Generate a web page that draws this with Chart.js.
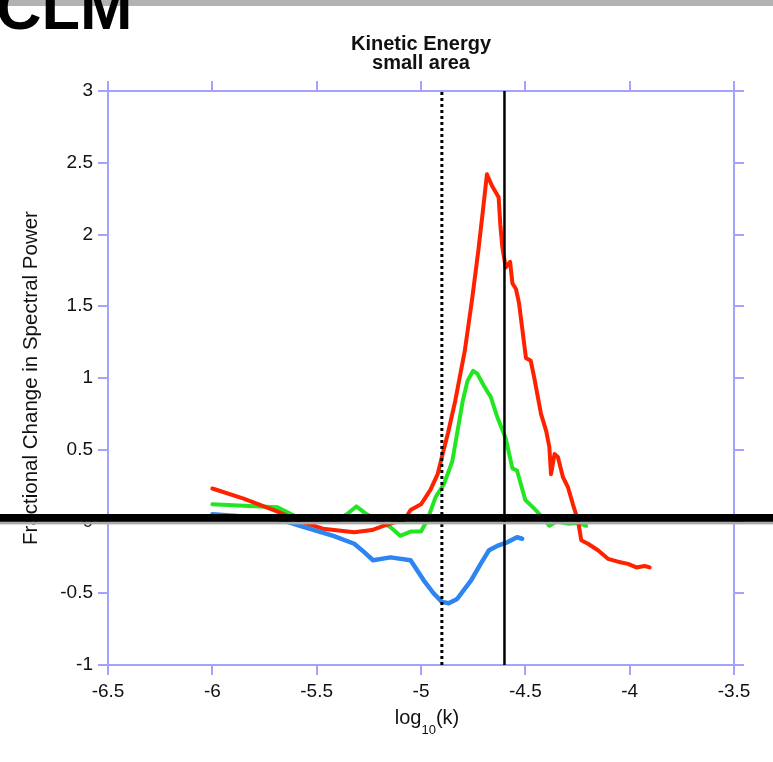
<!DOCTYPE html>
<html><head><meta charset="utf-8">
<script src="https://cdn.jsdelivr.net/npm/chart.js@4.4.1/dist/chart.umd.min.js"></script>
<style>html,body{margin:0;padding:0;background:#fff;overflow:hidden}#wrap{width:773px;height:762px;position:relative}</style>
</head><body><div id="wrap"><canvas id="c" width="773" height="762"></canvas></div>
<script>
// ---- data ----
const redX = [-6.0,-5.85,-5.69,-5.58,-5.47,-5.32,-5.235,-5.18,-5.115,-5.08,-5.05,-5.0,-4.955,-4.92,-4.9,-4.87,-4.836,-4.79,-4.756,-4.725,-4.70,-4.684,-4.66,-4.628,-4.62,-4.61,-4.594,-4.573,-4.562,-4.545,-4.53,-4.497,-4.474,-4.457,-4.425,-4.40,-4.385,-4.377,-4.36,-4.344,-4.32,-4.296,-4.272,-4.248,-4.232,-4.2,-4.152,-4.104,-4.056,-4.008,-3.968,-3.928,-3.904];
const redY = [0.23,0.16,0.07,0.0,-0.05,-0.075,-0.06,-0.03,0.0,0.01,0.08,0.12,0.22,0.33,0.45,0.62,0.84,1.19,1.54,1.89,2.21,2.42,2.34,2.26,2.07,1.91,1.77,1.81,1.66,1.62,1.52,1.14,1.12,1.0,0.75,0.63,0.52,0.33,0.47,0.45,0.31,0.24,0.12,0.01,-0.13,-0.155,-0.2,-0.26,-0.28,-0.295,-0.32,-0.31,-0.32];
const greenX = [-6.0,-5.85,-5.69,-5.58,-5.5,-5.40,-5.355,-5.31,-5.26,-5.194,-5.146,-5.1,-5.05,-5.0,-4.97,-4.93,-4.89,-4.85,-4.80,-4.777,-4.75,-4.73,-4.70,-4.68,-4.666,-4.635,-4.594,-4.562,-4.54,-4.5,-4.457,-4.425,-4.385,-4.35,-4.296,-4.248,-4.208];
const greenY = [0.12,0.11,0.10,0.02,0.0,0.01,0.05,0.105,0.05,0.0,-0.04,-0.1,-0.07,-0.07,0.01,0.17,0.26,0.42,0.84,0.98,1.05,1.03,0.95,0.90,0.87,0.73,0.58,0.37,0.355,0.15,0.09,0.04,-0.03,0.0,-0.015,-0.01,-0.03];
const blueX = [-6.0,-5.85,-5.69,-5.58,-5.42,-5.32,-5.275,-5.23,-5.146,-5.05,-4.987,-4.94,-4.9,-4.867,-4.827,-4.76,-4.714,-4.674,-4.635,-4.587,-4.54,-4.515];
const blueY = [0.05,0.035,0.02,-0.03,-0.1,-0.155,-0.21,-0.27,-0.25,-0.27,-0.41,-0.50,-0.56,-0.57,-0.54,-0.41,-0.295,-0.2,-0.17,-0.145,-0.11,-0.12];
const markerDotted = -4.9;
const markerSolid = -4.6;
const xRange = [-6.5, -3.5];
const yRange = [-1, 3];
const zeroBarValue = 0;
const pageLabel = 'CLM';
const titleLines = ['Kinetic Energy', 'small area'];
const yTitle = 'Fractional Change in Spectral Power';
const xTitleParts = ['log', '10', '(k)'];

const pts = (xs, ys) => xs.map((x, i) => ({x, y: ys[i]}));
const AXIS = '#a3a3ff';
const FONT = '"Liberation Sans", Arial, Helvetica, sans-serif';

const decor = {
  id: 'decor',
  beforeDraw(chart) {
    const ctx = chart.ctx;
    ctx.save();
    ctx.fillStyle = '#ffffff';
    ctx.fillRect(0, 0, chart.width, chart.height);
    ctx.fillStyle = '#b2b2b2';
    ctx.fillRect(0, 0, chart.width, 6);
    ctx.fillStyle = '#000';
    ctx.font = 'bold 63px ' + FONT;
    ctx.textBaseline = 'alphabetic';
    ctx.textAlign = 'left';
    ctx.fillText(pageLabel, -4, 29);
    ctx.restore();
  },
  afterDraw(chart) {
    const ctx = chart.ctx;
    const ys = chart.scales.y;
    ctx.save();
    // x axis title with subscript
    const ca = chart.chartArea;
    const cx = (ca.left + ca.right) / 2 + 6;
    ctx.fillStyle = '#111';
    ctx.textBaseline = 'alphabetic';
    ctx.textAlign = 'left';
    const big = '20px ' + FONT, small = '13px ' + FONT;
    ctx.font = big; const w1 = ctx.measureText(xTitleParts[0]).width; const w3 = ctx.measureText(xTitleParts[2]).width;
    ctx.font = small; const w2 = ctx.measureText(xTitleParts[1]).width;
    let x0 = cx - (w1 + w2 + w3) / 2;
    const base = ca.bottom + 59;
    ctx.font = big; ctx.fillText(xTitleParts[0], x0, base);
    ctx.font = small; ctx.fillText(xTitleParts[1], x0 + w1, base + 10);
    ctx.font = big; ctx.fillText(xTitleParts[2], x0 + w1 + w2, base);
    // thick black zero bar overlay across the page
    const zp = ys.getPixelForValue(zeroBarValue);
    ctx.fillStyle = '#aaaaaa';
    ctx.fillRect(0, zp + 0.3, chart.width, 2.6);
    ctx.fillStyle = '#000';
    ctx.fillRect(0, zp - 7.5, chart.width, 7.8);
    ctx.restore();
  }
};

const tickFont = {family: FONT, size: 19};
new Chart(document.getElementById('c'), {
  type: 'line',
  data: {
    datasets: [
      {data: pts([markerSolid, markerSolid], [yRange[0], yRange[1]]), borderColor: '#000', borderWidth: 2.5, pointRadius: 0, order: 0},
      {data: pts([markerDotted, markerDotted], [yRange[0], yRange[1]]), borderColor: '#000', borderWidth: 3, borderDash: [3, 3], borderCapStyle: 'butt', pointRadius: 0, order: 1},
      {data: pts(blueX, blueY), borderColor: '#2d86f0', borderWidth: 4.5, pointRadius: 0, order: 2},
      {data: pts(redX, redY), borderColor: '#ff2200', borderWidth: 4, pointRadius: 0, order: 3},
      {data: pts(greenX, greenY), borderColor: '#22e622', borderWidth: 4, pointRadius: 0, order: 4}
    ]
  },
  options: {
    responsive: false,
    animation: false,
    layout: {padding: 0},
    elements: {line: {tension: 0, borderJoinStyle: 'round', borderCapStyle: 'round'}},
    plugins: {
      legend: {display: false},
      tooltip: {enabled: false},
      title: {display: true, text: titleLines, fullSize: false, color: '#111',
        font: {family: FONT, size: 20, weight: 'bold', lineHeight: 0.95}, padding: {top: 35, bottom: 8}}
    },
    scales: {
      x: {type: 'linear', position: 'bottom', min: xRange[0], max: xRange[1],
        ticks: {stepSize: 0.5, autoSkip: false, maxRotation: 0, color: '#111', font: tickFont, padding: 5,
          callback: v => String(v)},
        grid: {drawOnChartArea: false, drawTicks: true, tickLength: 10, color: AXIS, lineWidth: 2},
        border: {display: true, color: AXIS, width: 2},
        afterFit: s => { s.height = 97; }
      },
      x2: {type: 'linear', position: 'top', min: xRange[0], max: xRange[1],
        ticks: {stepSize: 0.5, display: false},
        grid: {drawOnChartArea: false, drawTicks: true, tickLength: 10, color: AXIS, lineWidth: 2},
        border: {display: true, color: AXIS, width: 2},
        afterFit: s => { s.height = 10; }
      },
      y: {type: 'linear', position: 'left', min: yRange[0], max: yRange[1],
        ticks: {stepSize: 0.5, autoSkip: false, color: '#111', font: tickFont, padding: 5,
          callback: v => String(v)},
        grid: {drawOnChartArea: false, drawTicks: true, tickLength: 10, color: AXIS, lineWidth: 2},
        border: {display: true, color: AXIS, width: 2},
        title: {display: true, text: yTitle, color: '#111', font: {family: FONT, size: 20.5}, padding: {top: 19, bottom: 0}},
        afterFit: s => { s.width = 108; }
      },
      y2: {type: 'linear', position: 'right', min: yRange[0], max: yRange[1],
        ticks: {stepSize: 0.5, display: false},
        grid: {drawOnChartArea: false, drawTicks: true, tickLength: 10, color: AXIS, lineWidth: 2},
        border: {display: true, color: AXIS, width: 2},
        afterFit: s => { s.width = 39; }
      }
    }
  },
  plugins: [decor]
});
</script>
</body></html>
